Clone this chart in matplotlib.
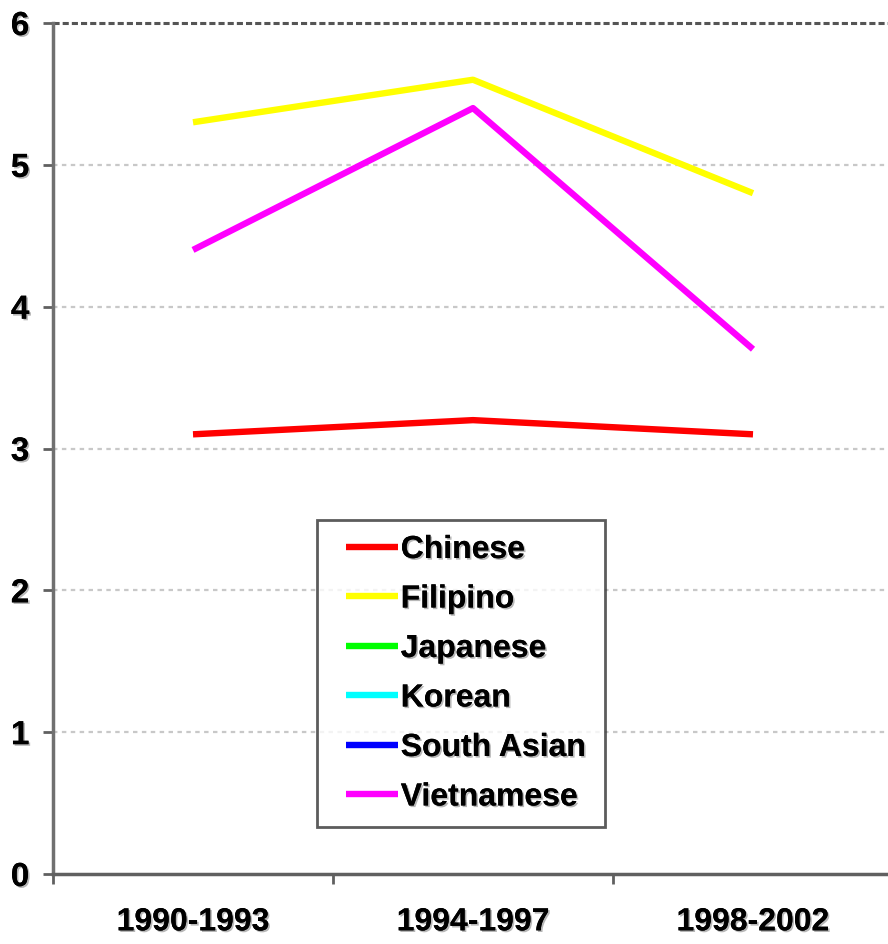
import matplotlib
matplotlib.use("Agg")
import matplotlib.pyplot as plt
import matplotlib.patheffects as pe
from matplotlib.legend_handler import HandlerLine2D
from matplotlib.lines import Line2D
import numpy as np

categories = ["1990-1993", "1994-1997", "1998-2002"]
series_names = ["Chinese", "Filipino", "Japanese", "Korean", "South Asian", "Vietnamese"]
chinese = [3.1, 3.2, 3.1]
filipino = [5.3, 5.6, 4.8]
japanese = [np.nan, np.nan, np.nan]
korean = [np.nan, np.nan, np.nan]
south_asian = [np.nan, np.nan, np.nan]
vietnamese = [4.4, 5.4, 3.7]
colors = ["#ff0000", "#ffff00", "#00ff00", "#00ffff", "#0000ff", "#ff00ff"]
yticks = [0, 1, 2, 3, 4, 5, 6]

plt.rcParams['font.family'] = ['Liberation Sans', 'DejaVu Sans']
shadow = [pe.withSimplePatchShadow(offset=(1.2, -1.2), shadow_rgbFace='#888888', alpha=0.6), pe.Normal()]

fig = plt.figure(figsize=(8.88, 9.45), dpi=100)
ax = fig.add_axes([53/888, 1-875/945, 840/888, 851/945])

x = np.arange(len(categories))
data = [chinese, filipino, japanese, korean, south_asian, vietnamese]
for name, vals, c in zip(series_names, data, colors):
    ax.plot(x, vals, color=c, lw=4.6, label=name, solid_capstyle='butt', zorder=3)

ax.set_xlim(-0.5, 2.5)
ax.set_ylim(0, 6)

for v in yticks[1:6]:
    ax.axhline(v, color='#c8c8c8', lw=1.6, ls=(0, (2, 2)), zorder=1)
ax.axhline(6, color='#555555', lw=2.2, ls=(0, (2, 1)), zorder=2, clip_on=False)

for s in ['top', 'right']:
    ax.spines[s].set_visible(False)
ax.spines['left'].set_color('#707070')
ax.spines['left'].set_linewidth(2.5)
ax.spines['bottom'].set_color('#606060')
ax.spines['bottom'].set_linewidth(2.5)

ax.set_yticks(yticks)
ax.set_yticklabels([str(v) for v in yticks], fontsize=24, fontweight='bold', path_effects=shadow)
ax.tick_params(axis='y', length=7, width=2, color='#606060', pad=10)

ax.set_xticks([-0.5, 0.5, 1.5])
ax.set_xticklabels([])
ax.tick_params(axis='x', which='major', length=7, width=2, color='#606060')
ax.set_xticks(x, minor=True)
ax.set_xticklabels(categories, minor=True, fontsize=23, fontweight='bold', path_effects=shadow)
ax.tick_params(axis='x', which='minor', length=0, pad=24)

ytop = (875-521)/851
leg = ax.legend(loc='upper left', bbox_to_anchor=((317-53)/840, ytop-0.001, 288/840, 0.001),
                mode='expand', frameon=True, fancybox=False,
                prop={'weight': 'bold', 'size': 23},
                handlelength=2.05, handletextpad=0.1, labelspacing=0.61, borderpad=0.47,
                borderaxespad=0, handler_map={Line2D: HandlerLine2D(xpad=0.45)})
leg.get_frame().set_edgecolor('#333333')
leg.get_frame().set_linewidth(2)
for t in leg.get_texts():
    t.set_path_effects(shadow)

fig.savefig("out.png", dpi=100)
